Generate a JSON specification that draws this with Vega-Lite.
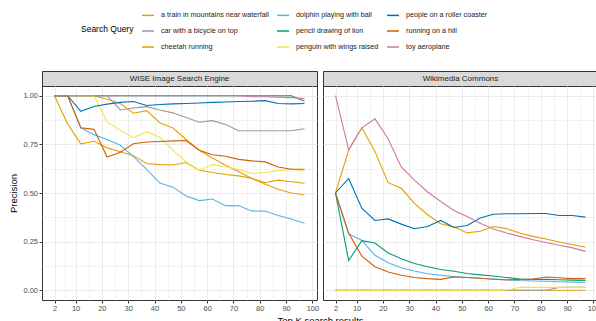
{
  "$schema": "https://vega.github.io/schema/vega-lite/v6.json",
  "padding": {"left": 8, "top": 8, "right": 0, "bottom": 0},
  "autosize": {"type": "pad"},
  "background": "white",
  "config": {
    "font": "Liberation Sans",
    "view": {"stroke": "#333333", "strokeWidth": 1},
    "axis": {"domain": false, "gridColor": "#EBEBEB", "tickColor": "#333333", "tickSize": 3, "labelFontSize": 7.5, "labelColor": "#4D4D4D", "labelPadding": 1.5, "titleFontSize": 9.5, "titleFontWeight": "normal", "titleColor": "#000000", "labelFlush": false}
  },
  "data": {"values": [
    {"e":"WISE Image Search Engine","q":"a train in mountains near waterfall","k":2,"p":1},
    {"e":"WISE Image Search Engine","q":"a train in mountains near waterfall","k":7,"p":0.855},
    {"e":"WISE Image Search Engine","q":"a train in mountains near waterfall","k":12,"p":0.753},
    {"e":"WISE Image Search Engine","q":"a train in mountains near waterfall","k":17,"p":0.766},
    {"e":"WISE Image Search Engine","q":"a train in mountains near waterfall","k":22,"p":0.732},
    {"e":"WISE Image Search Engine","q":"a train in mountains near waterfall","k":27,"p":0.712},
    {"e":"WISE Image Search Engine","q":"a train in mountains near waterfall","k":32,"p":0.692},
    {"e":"WISE Image Search Engine","q":"a train in mountains near waterfall","k":37,"p":0.652},
    {"e":"WISE Image Search Engine","q":"a train in mountains near waterfall","k":42,"p":0.646},
    {"e":"WISE Image Search Engine","q":"a train in mountains near waterfall","k":47,"p":0.644},
    {"e":"WISE Image Search Engine","q":"a train in mountains near waterfall","k":52,"p":0.657},
    {"e":"WISE Image Search Engine","q":"a train in mountains near waterfall","k":57,"p":0.617},
    {"e":"WISE Image Search Engine","q":"a train in mountains near waterfall","k":62,"p":0.605},
    {"e":"WISE Image Search Engine","q":"a train in mountains near waterfall","k":67,"p":0.595},
    {"e":"WISE Image Search Engine","q":"a train in mountains near waterfall","k":72,"p":0.588},
    {"e":"WISE Image Search Engine","q":"a train in mountains near waterfall","k":77,"p":0.575},
    {"e":"WISE Image Search Engine","q":"a train in mountains near waterfall","k":82,"p":0.553},
    {"e":"WISE Image Search Engine","q":"a train in mountains near waterfall","k":87,"p":0.566},
    {"e":"WISE Image Search Engine","q":"a train in mountains near waterfall","k":92,"p":0.558},
    {"e":"WISE Image Search Engine","q":"a train in mountains near waterfall","k":97,"p":0.55},
    {"e":"WISE Image Search Engine","q":"car with a bicycle on top","k":2,"p":1},
    {"e":"WISE Image Search Engine","q":"car with a bicycle on top","k":7,"p":1},
    {"e":"WISE Image Search Engine","q":"car with a bicycle on top","k":12,"p":1},
    {"e":"WISE Image Search Engine","q":"car with a bicycle on top","k":17,"p":1},
    {"e":"WISE Image Search Engine","q":"car with a bicycle on top","k":22,"p":1},
    {"e":"WISE Image Search Engine","q":"car with a bicycle on top","k":27,"p":0.927},
    {"e":"WISE Image Search Engine","q":"car with a bicycle on top","k":32,"p":0.937},
    {"e":"WISE Image Search Engine","q":"car with a bicycle on top","k":37,"p":0.944},
    {"e":"WISE Image Search Engine","q":"car with a bicycle on top","k":42,"p":0.927},
    {"e":"WISE Image Search Engine","q":"car with a bicycle on top","k":47,"p":0.912},
    {"e":"WISE Image Search Engine","q":"car with a bicycle on top","k":52,"p":0.888},
    {"e":"WISE Image Search Engine","q":"car with a bicycle on top","k":57,"p":0.864},
    {"e":"WISE Image Search Engine","q":"car with a bicycle on top","k":62,"p":0.872},
    {"e":"WISE Image Search Engine","q":"car with a bicycle on top","k":67,"p":0.852},
    {"e":"WISE Image Search Engine","q":"car with a bicycle on top","k":72,"p":0.82},
    {"e":"WISE Image Search Engine","q":"car with a bicycle on top","k":77,"p":0.82},
    {"e":"WISE Image Search Engine","q":"car with a bicycle on top","k":82,"p":0.82},
    {"e":"WISE Image Search Engine","q":"car with a bicycle on top","k":87,"p":0.82},
    {"e":"WISE Image Search Engine","q":"car with a bicycle on top","k":92,"p":0.82},
    {"e":"WISE Image Search Engine","q":"car with a bicycle on top","k":97,"p":0.83},
    {"e":"WISE Image Search Engine","q":"cheetah running","k":2,"p":1},
    {"e":"WISE Image Search Engine","q":"cheetah running","k":7,"p":1},
    {"e":"WISE Image Search Engine","q":"cheetah running","k":12,"p":1},
    {"e":"WISE Image Search Engine","q":"cheetah running","k":17,"p":1},
    {"e":"WISE Image Search Engine","q":"cheetah running","k":22,"p":0.982},
    {"e":"WISE Image Search Engine","q":"cheetah running","k":27,"p":0.96},
    {"e":"WISE Image Search Engine","q":"cheetah running","k":32,"p":0.91},
    {"e":"WISE Image Search Engine","q":"cheetah running","k":37,"p":0.923},
    {"e":"WISE Image Search Engine","q":"cheetah running","k":42,"p":0.861},
    {"e":"WISE Image Search Engine","q":"cheetah running","k":47,"p":0.834},
    {"e":"WISE Image Search Engine","q":"cheetah running","k":52,"p":0.775},
    {"e":"WISE Image Search Engine","q":"cheetah running","k":57,"p":0.72},
    {"e":"WISE Image Search Engine","q":"cheetah running","k":62,"p":0.68},
    {"e":"WISE Image Search Engine","q":"cheetah running","k":67,"p":0.643},
    {"e":"WISE Image Search Engine","q":"cheetah running","k":72,"p":0.609},
    {"e":"WISE Image Search Engine","q":"cheetah running","k":77,"p":0.575},
    {"e":"WISE Image Search Engine","q":"cheetah running","k":82,"p":0.546},
    {"e":"WISE Image Search Engine","q":"cheetah running","k":87,"p":0.519},
    {"e":"WISE Image Search Engine","q":"cheetah running","k":92,"p":0.5},
    {"e":"WISE Image Search Engine","q":"cheetah running","k":97,"p":0.49},
    {"e":"WISE Image Search Engine","q":"dolphin playing with ball","k":2,"p":1},
    {"e":"WISE Image Search Engine","q":"dolphin playing with ball","k":7,"p":1},
    {"e":"WISE Image Search Engine","q":"dolphin playing with ball","k":12,"p":0.835},
    {"e":"WISE Image Search Engine","q":"dolphin playing with ball","k":17,"p":0.8},
    {"e":"WISE Image Search Engine","q":"dolphin playing with ball","k":22,"p":0.775},
    {"e":"WISE Image Search Engine","q":"dolphin playing with ball","k":27,"p":0.745},
    {"e":"WISE Image Search Engine","q":"dolphin playing with ball","k":32,"p":0.687},
    {"e":"WISE Image Search Engine","q":"dolphin playing with ball","k":37,"p":0.622},
    {"e":"WISE Image Search Engine","q":"dolphin playing with ball","k":42,"p":0.551},
    {"e":"WISE Image Search Engine","q":"dolphin playing with ball","k":47,"p":0.53},
    {"e":"WISE Image Search Engine","q":"dolphin playing with ball","k":52,"p":0.485},
    {"e":"WISE Image Search Engine","q":"dolphin playing with ball","k":57,"p":0.461},
    {"e":"WISE Image Search Engine","q":"dolphin playing with ball","k":62,"p":0.469},
    {"e":"WISE Image Search Engine","q":"dolphin playing with ball","k":67,"p":0.435},
    {"e":"WISE Image Search Engine","q":"dolphin playing with ball","k":72,"p":0.434},
    {"e":"WISE Image Search Engine","q":"dolphin playing with ball","k":77,"p":0.408},
    {"e":"WISE Image Search Engine","q":"dolphin playing with ball","k":82,"p":0.407},
    {"e":"WISE Image Search Engine","q":"dolphin playing with ball","k":87,"p":0.384},
    {"e":"WISE Image Search Engine","q":"dolphin playing with ball","k":92,"p":0.366},
    {"e":"WISE Image Search Engine","q":"dolphin playing with ball","k":97,"p":0.345},
    {"e":"WISE Image Search Engine","q":"pencil drawing of lion","k":2,"p":1},
    {"e":"WISE Image Search Engine","q":"pencil drawing of lion","k":7,"p":1},
    {"e":"WISE Image Search Engine","q":"pencil drawing of lion","k":12,"p":1},
    {"e":"WISE Image Search Engine","q":"pencil drawing of lion","k":17,"p":1},
    {"e":"WISE Image Search Engine","q":"pencil drawing of lion","k":22,"p":1},
    {"e":"WISE Image Search Engine","q":"pencil drawing of lion","k":27,"p":1},
    {"e":"WISE Image Search Engine","q":"pencil drawing of lion","k":32,"p":1},
    {"e":"WISE Image Search Engine","q":"pencil drawing of lion","k":37,"p":1},
    {"e":"WISE Image Search Engine","q":"pencil drawing of lion","k":42,"p":1},
    {"e":"WISE Image Search Engine","q":"pencil drawing of lion","k":47,"p":1},
    {"e":"WISE Image Search Engine","q":"pencil drawing of lion","k":52,"p":1},
    {"e":"WISE Image Search Engine","q":"pencil drawing of lion","k":57,"p":1},
    {"e":"WISE Image Search Engine","q":"pencil drawing of lion","k":62,"p":1},
    {"e":"WISE Image Search Engine","q":"pencil drawing of lion","k":67,"p":1},
    {"e":"WISE Image Search Engine","q":"pencil drawing of lion","k":72,"p":1},
    {"e":"WISE Image Search Engine","q":"pencil drawing of lion","k":77,"p":1},
    {"e":"WISE Image Search Engine","q":"pencil drawing of lion","k":82,"p":1},
    {"e":"WISE Image Search Engine","q":"pencil drawing of lion","k":87,"p":1},
    {"e":"WISE Image Search Engine","q":"pencil drawing of lion","k":92,"p":1},
    {"e":"WISE Image Search Engine","q":"pencil drawing of lion","k":97,"p":0.972},
    {"e":"WISE Image Search Engine","q":"penguin with wings raised","k":2,"p":1},
    {"e":"WISE Image Search Engine","q":"penguin with wings raised","k":7,"p":1},
    {"e":"WISE Image Search Engine","q":"penguin with wings raised","k":12,"p":1},
    {"e":"WISE Image Search Engine","q":"penguin with wings raised","k":17,"p":1},
    {"e":"WISE Image Search Engine","q":"penguin with wings raised","k":22,"p":0.865},
    {"e":"WISE Image Search Engine","q":"penguin with wings raised","k":27,"p":0.822},
    {"e":"WISE Image Search Engine","q":"penguin with wings raised","k":32,"p":0.784},
    {"e":"WISE Image Search Engine","q":"penguin with wings raised","k":37,"p":0.815},
    {"e":"WISE Image Search Engine","q":"penguin with wings raised","k":42,"p":0.787},
    {"e":"WISE Image Search Engine","q":"penguin with wings raised","k":47,"p":0.72},
    {"e":"WISE Image Search Engine","q":"penguin with wings raised","k":52,"p":0.66},
    {"e":"WISE Image Search Engine","q":"penguin with wings raised","k":57,"p":0.617},
    {"e":"WISE Image Search Engine","q":"penguin with wings raised","k":62,"p":0.646},
    {"e":"WISE Image Search Engine","q":"penguin with wings raised","k":67,"p":0.635},
    {"e":"WISE Image Search Engine","q":"penguin with wings raised","k":72,"p":0.62},
    {"e":"WISE Image Search Engine","q":"penguin with wings raised","k":77,"p":0.6},
    {"e":"WISE Image Search Engine","q":"penguin with wings raised","k":82,"p":0.605},
    {"e":"WISE Image Search Engine","q":"penguin with wings raised","k":87,"p":0.615},
    {"e":"WISE Image Search Engine","q":"penguin with wings raised","k":92,"p":0.622},
    {"e":"WISE Image Search Engine","q":"penguin with wings raised","k":97,"p":0.612},
    {"e":"WISE Image Search Engine","q":"people on a roller coaster","k":2,"p":1},
    {"e":"WISE Image Search Engine","q":"people on a roller coaster","k":7,"p":1},
    {"e":"WISE Image Search Engine","q":"people on a roller coaster","k":12,"p":0.92},
    {"e":"WISE Image Search Engine","q":"people on a roller coaster","k":17,"p":0.945},
    {"e":"WISE Image Search Engine","q":"people on a roller coaster","k":22,"p":0.957},
    {"e":"WISE Image Search Engine","q":"people on a roller coaster","k":27,"p":0.966},
    {"e":"WISE Image Search Engine","q":"people on a roller coaster","k":32,"p":0.97},
    {"e":"WISE Image Search Engine","q":"people on a roller coaster","k":37,"p":0.95},
    {"e":"WISE Image Search Engine","q":"people on a roller coaster","k":42,"p":0.955},
    {"e":"WISE Image Search Engine","q":"people on a roller coaster","k":47,"p":0.958},
    {"e":"WISE Image Search Engine","q":"people on a roller coaster","k":52,"p":0.96},
    {"e":"WISE Image Search Engine","q":"people on a roller coaster","k":57,"p":0.963},
    {"e":"WISE Image Search Engine","q":"people on a roller coaster","k":62,"p":0.966},
    {"e":"WISE Image Search Engine","q":"people on a roller coaster","k":67,"p":0.968},
    {"e":"WISE Image Search Engine","q":"people on a roller coaster","k":72,"p":0.97},
    {"e":"WISE Image Search Engine","q":"people on a roller coaster","k":77,"p":0.972},
    {"e":"WISE Image Search Engine","q":"people on a roller coaster","k":82,"p":0.975},
    {"e":"WISE Image Search Engine","q":"people on a roller coaster","k":87,"p":0.96},
    {"e":"WISE Image Search Engine","q":"people on a roller coaster","k":92,"p":0.958},
    {"e":"WISE Image Search Engine","q":"people on a roller coaster","k":97,"p":0.96},
    {"e":"WISE Image Search Engine","q":"running on a hill","k":2,"p":1},
    {"e":"WISE Image Search Engine","q":"running on a hill","k":7,"p":1},
    {"e":"WISE Image Search Engine","q":"running on a hill","k":12,"p":0.835},
    {"e":"WISE Image Search Engine","q":"running on a hill","k":17,"p":0.827},
    {"e":"WISE Image Search Engine","q":"running on a hill","k":22,"p":0.685},
    {"e":"WISE Image Search Engine","q":"running on a hill","k":27,"p":0.71},
    {"e":"WISE Image Search Engine","q":"running on a hill","k":32,"p":0.753},
    {"e":"WISE Image Search Engine","q":"running on a hill","k":37,"p":0.762},
    {"e":"WISE Image Search Engine","q":"running on a hill","k":42,"p":0.765},
    {"e":"WISE Image Search Engine","q":"running on a hill","k":47,"p":0.768},
    {"e":"WISE Image Search Engine","q":"running on a hill","k":52,"p":0.77},
    {"e":"WISE Image Search Engine","q":"running on a hill","k":57,"p":0.72},
    {"e":"WISE Image Search Engine","q":"running on a hill","k":62,"p":0.697},
    {"e":"WISE Image Search Engine","q":"running on a hill","k":67,"p":0.689},
    {"e":"WISE Image Search Engine","q":"running on a hill","k":72,"p":0.673},
    {"e":"WISE Image Search Engine","q":"running on a hill","k":77,"p":0.665},
    {"e":"WISE Image Search Engine","q":"running on a hill","k":82,"p":0.66},
    {"e":"WISE Image Search Engine","q":"running on a hill","k":87,"p":0.634},
    {"e":"WISE Image Search Engine","q":"running on a hill","k":92,"p":0.622},
    {"e":"WISE Image Search Engine","q":"running on a hill","k":97,"p":0.622},
    {"e":"WISE Image Search Engine","q":"toy aeroplane","k":2,"p":1},
    {"e":"WISE Image Search Engine","q":"toy aeroplane","k":7,"p":1},
    {"e":"WISE Image Search Engine","q":"toy aeroplane","k":12,"p":1},
    {"e":"WISE Image Search Engine","q":"toy aeroplane","k":17,"p":1},
    {"e":"WISE Image Search Engine","q":"toy aeroplane","k":22,"p":1},
    {"e":"WISE Image Search Engine","q":"toy aeroplane","k":27,"p":1},
    {"e":"WISE Image Search Engine","q":"toy aeroplane","k":32,"p":1},
    {"e":"WISE Image Search Engine","q":"toy aeroplane","k":37,"p":1},
    {"e":"WISE Image Search Engine","q":"toy aeroplane","k":42,"p":1},
    {"e":"WISE Image Search Engine","q":"toy aeroplane","k":47,"p":1},
    {"e":"WISE Image Search Engine","q":"toy aeroplane","k":52,"p":1},
    {"e":"WISE Image Search Engine","q":"toy aeroplane","k":57,"p":1},
    {"e":"WISE Image Search Engine","q":"toy aeroplane","k":62,"p":1},
    {"e":"WISE Image Search Engine","q":"toy aeroplane","k":67,"p":1},
    {"e":"WISE Image Search Engine","q":"toy aeroplane","k":72,"p":1},
    {"e":"WISE Image Search Engine","q":"toy aeroplane","k":77,"p":0.995},
    {"e":"WISE Image Search Engine","q":"toy aeroplane","k":82,"p":0.995},
    {"e":"WISE Image Search Engine","q":"toy aeroplane","k":87,"p":0.993},
    {"e":"WISE Image Search Engine","q":"toy aeroplane","k":92,"p":0.99},
    {"e":"WISE Image Search Engine","q":"toy aeroplane","k":97,"p":0.985},
    {"e":"Wikimedia Commons","q":"a train in mountains near waterfall","k":2,"p":0},
    {"e":"Wikimedia Commons","q":"a train in mountains near waterfall","k":7,"p":0},
    {"e":"Wikimedia Commons","q":"a train in mountains near waterfall","k":12,"p":0},
    {"e":"Wikimedia Commons","q":"a train in mountains near waterfall","k":17,"p":0},
    {"e":"Wikimedia Commons","q":"a train in mountains near waterfall","k":22,"p":0},
    {"e":"Wikimedia Commons","q":"a train in mountains near waterfall","k":27,"p":0},
    {"e":"Wikimedia Commons","q":"a train in mountains near waterfall","k":32,"p":0},
    {"e":"Wikimedia Commons","q":"a train in mountains near waterfall","k":37,"p":0},
    {"e":"Wikimedia Commons","q":"a train in mountains near waterfall","k":42,"p":0},
    {"e":"Wikimedia Commons","q":"a train in mountains near waterfall","k":47,"p":0},
    {"e":"Wikimedia Commons","q":"a train in mountains near waterfall","k":52,"p":0},
    {"e":"Wikimedia Commons","q":"a train in mountains near waterfall","k":57,"p":0},
    {"e":"Wikimedia Commons","q":"a train in mountains near waterfall","k":62,"p":0},
    {"e":"Wikimedia Commons","q":"a train in mountains near waterfall","k":67,"p":0},
    {"e":"Wikimedia Commons","q":"a train in mountains near waterfall","k":72,"p":0},
    {"e":"Wikimedia Commons","q":"a train in mountains near waterfall","k":77,"p":0},
    {"e":"Wikimedia Commons","q":"a train in mountains near waterfall","k":82,"p":0},
    {"e":"Wikimedia Commons","q":"a train in mountains near waterfall","k":87,"p":0},
    {"e":"Wikimedia Commons","q":"a train in mountains near waterfall","k":92,"p":0},
    {"e":"Wikimedia Commons","q":"a train in mountains near waterfall","k":97,"p":0},
    {"e":"Wikimedia Commons","q":"car with a bicycle on top","k":2,"p":0},
    {"e":"Wikimedia Commons","q":"car with a bicycle on top","k":7,"p":0},
    {"e":"Wikimedia Commons","q":"car with a bicycle on top","k":12,"p":0},
    {"e":"Wikimedia Commons","q":"car with a bicycle on top","k":17,"p":0},
    {"e":"Wikimedia Commons","q":"car with a bicycle on top","k":22,"p":0},
    {"e":"Wikimedia Commons","q":"car with a bicycle on top","k":27,"p":0},
    {"e":"Wikimedia Commons","q":"car with a bicycle on top","k":32,"p":0},
    {"e":"Wikimedia Commons","q":"car with a bicycle on top","k":37,"p":0},
    {"e":"Wikimedia Commons","q":"car with a bicycle on top","k":42,"p":0},
    {"e":"Wikimedia Commons","q":"car with a bicycle on top","k":47,"p":0},
    {"e":"Wikimedia Commons","q":"car with a bicycle on top","k":52,"p":0},
    {"e":"Wikimedia Commons","q":"car with a bicycle on top","k":57,"p":0},
    {"e":"Wikimedia Commons","q":"car with a bicycle on top","k":62,"p":0},
    {"e":"Wikimedia Commons","q":"car with a bicycle on top","k":67,"p":0},
    {"e":"Wikimedia Commons","q":"car with a bicycle on top","k":72,"p":0},
    {"e":"Wikimedia Commons","q":"car with a bicycle on top","k":77,"p":0},
    {"e":"Wikimedia Commons","q":"car with a bicycle on top","k":82,"p":0},
    {"e":"Wikimedia Commons","q":"car with a bicycle on top","k":87,"p":0.015},
    {"e":"Wikimedia Commons","q":"car with a bicycle on top","k":92,"p":0.015},
    {"e":"Wikimedia Commons","q":"car with a bicycle on top","k":97,"p":0.015},
    {"e":"Wikimedia Commons","q":"cheetah running","k":2,"p":0.5},
    {"e":"Wikimedia Commons","q":"cheetah running","k":7,"p":0.72},
    {"e":"Wikimedia Commons","q":"cheetah running","k":12,"p":0.835},
    {"e":"Wikimedia Commons","q":"cheetah running","k":17,"p":0.714},
    {"e":"Wikimedia Commons","q":"cheetah running","k":22,"p":0.553},
    {"e":"Wikimedia Commons","q":"cheetah running","k":27,"p":0.524},
    {"e":"Wikimedia Commons","q":"cheetah running","k":32,"p":0.447},
    {"e":"Wikimedia Commons","q":"cheetah running","k":37,"p":0.388},
    {"e":"Wikimedia Commons","q":"cheetah running","k":42,"p":0.342},
    {"e":"Wikimedia Commons","q":"cheetah running","k":47,"p":0.326},
    {"e":"Wikimedia Commons","q":"cheetah running","k":52,"p":0.295},
    {"e":"Wikimedia Commons","q":"cheetah running","k":57,"p":0.303},
    {"e":"Wikimedia Commons","q":"cheetah running","k":62,"p":0.328},
    {"e":"Wikimedia Commons","q":"cheetah running","k":67,"p":0.317},
    {"e":"Wikimedia Commons","q":"cheetah running","k":72,"p":0.294},
    {"e":"Wikimedia Commons","q":"cheetah running","k":77,"p":0.277},
    {"e":"Wikimedia Commons","q":"cheetah running","k":82,"p":0.264},
    {"e":"Wikimedia Commons","q":"cheetah running","k":87,"p":0.248},
    {"e":"Wikimedia Commons","q":"cheetah running","k":92,"p":0.235},
    {"e":"Wikimedia Commons","q":"cheetah running","k":97,"p":0.221},
    {"e":"Wikimedia Commons","q":"dolphin playing with ball","k":2,"p":0.5},
    {"e":"Wikimedia Commons","q":"dolphin playing with ball","k":7,"p":0.289},
    {"e":"Wikimedia Commons","q":"dolphin playing with ball","k":12,"p":0.257},
    {"e":"Wikimedia Commons","q":"dolphin playing with ball","k":17,"p":0.18},
    {"e":"Wikimedia Commons","q":"dolphin playing with ball","k":22,"p":0.141},
    {"e":"Wikimedia Commons","q":"dolphin playing with ball","k":27,"p":0.116},
    {"e":"Wikimedia Commons","q":"dolphin playing with ball","k":32,"p":0.099},
    {"e":"Wikimedia Commons","q":"dolphin playing with ball","k":37,"p":0.085},
    {"e":"Wikimedia Commons","q":"dolphin playing with ball","k":42,"p":0.077},
    {"e":"Wikimedia Commons","q":"dolphin playing with ball","k":47,"p":0.07},
    {"e":"Wikimedia Commons","q":"dolphin playing with ball","k":52,"p":0.066},
    {"e":"Wikimedia Commons","q":"dolphin playing with ball","k":57,"p":0.062},
    {"e":"Wikimedia Commons","q":"dolphin playing with ball","k":62,"p":0.058},
    {"e":"Wikimedia Commons","q":"dolphin playing with ball","k":67,"p":0.054},
    {"e":"Wikimedia Commons","q":"dolphin playing with ball","k":72,"p":0.05},
    {"e":"Wikimedia Commons","q":"dolphin playing with ball","k":77,"p":0.048},
    {"e":"Wikimedia Commons","q":"dolphin playing with ball","k":82,"p":0.046},
    {"e":"Wikimedia Commons","q":"dolphin playing with ball","k":87,"p":0.044},
    {"e":"Wikimedia Commons","q":"dolphin playing with ball","k":92,"p":0.042},
    {"e":"Wikimedia Commons","q":"dolphin playing with ball","k":97,"p":0.04},
    {"e":"Wikimedia Commons","q":"pencil drawing of lion","k":2,"p":0.5},
    {"e":"Wikimedia Commons","q":"pencil drawing of lion","k":7,"p":0.153},
    {"e":"Wikimedia Commons","q":"pencil drawing of lion","k":12,"p":0.255},
    {"e":"Wikimedia Commons","q":"pencil drawing of lion","k":17,"p":0.243},
    {"e":"Wikimedia Commons","q":"pencil drawing of lion","k":22,"p":0.192},
    {"e":"Wikimedia Commons","q":"pencil drawing of lion","k":27,"p":0.162},
    {"e":"Wikimedia Commons","q":"pencil drawing of lion","k":32,"p":0.138},
    {"e":"Wikimedia Commons","q":"pencil drawing of lion","k":37,"p":0.121},
    {"e":"Wikimedia Commons","q":"pencil drawing of lion","k":42,"p":0.107},
    {"e":"Wikimedia Commons","q":"pencil drawing of lion","k":47,"p":0.098},
    {"e":"Wikimedia Commons","q":"pencil drawing of lion","k":52,"p":0.086},
    {"e":"Wikimedia Commons","q":"pencil drawing of lion","k":57,"p":0.079},
    {"e":"Wikimedia Commons","q":"pencil drawing of lion","k":62,"p":0.073},
    {"e":"Wikimedia Commons","q":"pencil drawing of lion","k":67,"p":0.066},
    {"e":"Wikimedia Commons","q":"pencil drawing of lion","k":72,"p":0.058},
    {"e":"Wikimedia Commons","q":"pencil drawing of lion","k":77,"p":0.056},
    {"e":"Wikimedia Commons","q":"pencil drawing of lion","k":82,"p":0.056},
    {"e":"Wikimedia Commons","q":"pencil drawing of lion","k":87,"p":0.054},
    {"e":"Wikimedia Commons","q":"pencil drawing of lion","k":92,"p":0.052},
    {"e":"Wikimedia Commons","q":"pencil drawing of lion","k":97,"p":0.051},
    {"e":"Wikimedia Commons","q":"penguin with wings raised","k":2,"p":0},
    {"e":"Wikimedia Commons","q":"penguin with wings raised","k":7,"p":0},
    {"e":"Wikimedia Commons","q":"penguin with wings raised","k":12,"p":0},
    {"e":"Wikimedia Commons","q":"penguin with wings raised","k":17,"p":0},
    {"e":"Wikimedia Commons","q":"penguin with wings raised","k":22,"p":0},
    {"e":"Wikimedia Commons","q":"penguin with wings raised","k":27,"p":0},
    {"e":"Wikimedia Commons","q":"penguin with wings raised","k":32,"p":0},
    {"e":"Wikimedia Commons","q":"penguin with wings raised","k":37,"p":0},
    {"e":"Wikimedia Commons","q":"penguin with wings raised","k":42,"p":0},
    {"e":"Wikimedia Commons","q":"penguin with wings raised","k":47,"p":0},
    {"e":"Wikimedia Commons","q":"penguin with wings raised","k":52,"p":0},
    {"e":"Wikimedia Commons","q":"penguin with wings raised","k":57,"p":0},
    {"e":"Wikimedia Commons","q":"penguin with wings raised","k":62,"p":0},
    {"e":"Wikimedia Commons","q":"penguin with wings raised","k":67,"p":0},
    {"e":"Wikimedia Commons","q":"penguin with wings raised","k":72,"p":0.015},
    {"e":"Wikimedia Commons","q":"penguin with wings raised","k":77,"p":0.015},
    {"e":"Wikimedia Commons","q":"penguin with wings raised","k":82,"p":0.015},
    {"e":"Wikimedia Commons","q":"penguin with wings raised","k":87,"p":0.015},
    {"e":"Wikimedia Commons","q":"penguin with wings raised","k":92,"p":0.015},
    {"e":"Wikimedia Commons","q":"penguin with wings raised","k":97,"p":0.015},
    {"e":"Wikimedia Commons","q":"people on a roller coaster","k":2,"p":0.5},
    {"e":"Wikimedia Commons","q":"people on a roller coaster","k":7,"p":0.575},
    {"e":"Wikimedia Commons","q":"people on a roller coaster","k":12,"p":0.422},
    {"e":"Wikimedia Commons","q":"people on a roller coaster","k":17,"p":0.359},
    {"e":"Wikimedia Commons","q":"people on a roller coaster","k":22,"p":0.367},
    {"e":"Wikimedia Commons","q":"people on a roller coaster","k":27,"p":0.34},
    {"e":"Wikimedia Commons","q":"people on a roller coaster","k":32,"p":0.316},
    {"e":"Wikimedia Commons","q":"people on a roller coaster","k":37,"p":0.328},
    {"e":"Wikimedia Commons","q":"people on a roller coaster","k":42,"p":0.359},
    {"e":"Wikimedia Commons","q":"people on a roller coaster","k":47,"p":0.323},
    {"e":"Wikimedia Commons","q":"people on a roller coaster","k":52,"p":0.333},
    {"e":"Wikimedia Commons","q":"people on a roller coaster","k":57,"p":0.371},
    {"e":"Wikimedia Commons","q":"people on a roller coaster","k":62,"p":0.391},
    {"e":"Wikimedia Commons","q":"people on a roller coaster","k":67,"p":0.393},
    {"e":"Wikimedia Commons","q":"people on a roller coaster","k":72,"p":0.393},
    {"e":"Wikimedia Commons","q":"people on a roller coaster","k":77,"p":0.395},
    {"e":"Wikimedia Commons","q":"people on a roller coaster","k":82,"p":0.395},
    {"e":"Wikimedia Commons","q":"people on a roller coaster","k":87,"p":0.384},
    {"e":"Wikimedia Commons","q":"people on a roller coaster","k":92,"p":0.384},
    {"e":"Wikimedia Commons","q":"people on a roller coaster","k":97,"p":0.376},
    {"e":"Wikimedia Commons","q":"running on a hill","k":2,"p":0.5},
    {"e":"Wikimedia Commons","q":"running on a hill","k":7,"p":0.294},
    {"e":"Wikimedia Commons","q":"running on a hill","k":12,"p":0.175},
    {"e":"Wikimedia Commons","q":"running on a hill","k":17,"p":0.121},
    {"e":"Wikimedia Commons","q":"running on a hill","k":22,"p":0.094},
    {"e":"Wikimedia Commons","q":"running on a hill","k":27,"p":0.077},
    {"e":"Wikimedia Commons","q":"running on a hill","k":32,"p":0.066},
    {"e":"Wikimedia Commons","q":"running on a hill","k":37,"p":0.06},
    {"e":"Wikimedia Commons","q":"running on a hill","k":42,"p":0.056},
    {"e":"Wikimedia Commons","q":"running on a hill","k":47,"p":0.068},
    {"e":"Wikimedia Commons","q":"running on a hill","k":52,"p":0.066},
    {"e":"Wikimedia Commons","q":"running on a hill","k":57,"p":0.062},
    {"e":"Wikimedia Commons","q":"running on a hill","k":62,"p":0.057},
    {"e":"Wikimedia Commons","q":"running on a hill","k":67,"p":0.053},
    {"e":"Wikimedia Commons","q":"running on a hill","k":72,"p":0.056},
    {"e":"Wikimedia Commons","q":"running on a hill","k":77,"p":0.058},
    {"e":"Wikimedia Commons","q":"running on a hill","k":82,"p":0.068},
    {"e":"Wikimedia Commons","q":"running on a hill","k":87,"p":0.064},
    {"e":"Wikimedia Commons","q":"running on a hill","k":92,"p":0.06},
    {"e":"Wikimedia Commons","q":"running on a hill","k":97,"p":0.06},
    {"e":"Wikimedia Commons","q":"toy aeroplane","k":2,"p":1},
    {"e":"Wikimedia Commons","q":"toy aeroplane","k":7,"p":0.723},
    {"e":"Wikimedia Commons","q":"toy aeroplane","k":12,"p":0.835},
    {"e":"Wikimedia Commons","q":"toy aeroplane","k":17,"p":0.881},
    {"e":"Wikimedia Commons","q":"toy aeroplane","k":22,"p":0.779},
    {"e":"Wikimedia Commons","q":"toy aeroplane","k":27,"p":0.634},
    {"e":"Wikimedia Commons","q":"toy aeroplane","k":32,"p":0.566},
    {"e":"Wikimedia Commons","q":"toy aeroplane","k":37,"p":0.505},
    {"e":"Wikimedia Commons","q":"toy aeroplane","k":42,"p":0.456},
    {"e":"Wikimedia Commons","q":"toy aeroplane","k":47,"p":0.41},
    {"e":"Wikimedia Commons","q":"toy aeroplane","k":52,"p":0.379},
    {"e":"Wikimedia Commons","q":"toy aeroplane","k":57,"p":0.345},
    {"e":"Wikimedia Commons","q":"toy aeroplane","k":62,"p":0.315},
    {"e":"Wikimedia Commons","q":"toy aeroplane","k":67,"p":0.294},
    {"e":"Wikimedia Commons","q":"toy aeroplane","k":72,"p":0.277},
    {"e":"Wikimedia Commons","q":"toy aeroplane","k":77,"p":0.26},
    {"e":"Wikimedia Commons","q":"toy aeroplane","k":82,"p":0.246},
    {"e":"Wikimedia Commons","q":"toy aeroplane","k":87,"p":0.231},
    {"e":"Wikimedia Commons","q":"toy aeroplane","k":92,"p":0.218},
    {"e":"Wikimedia Commons","q":"toy aeroplane","k":97,"p":0.2}
  ]},
  "columns": 2,
  "align": "each",
  "bounds": "flush",
  "spacing": {"row": 0, "column": 6},
  "resolve": {"scale": {"color": "shared"}},
  "concat": [
    {
      "width": 275, "height": 15,
      "view": {"fill": "#D9D9D9", "stroke": "#333333"},
      "transform": [{"filter": "datum.e == 'WISE Image Search Engine'"}, {"aggregate": [{"op": "count", "as": "n"}], "groupby": ["e"]}],
      "mark": {"type": "text", "fontSize": 8, "color": "#1A1A1A", "baseline": "middle", "align": "center"},
      "encoding": {"text": {"field": "e", "type": "nominal"}}
    },
    {
      "width": 275, "height": 15,
      "view": {"fill": "#D9D9D9", "stroke": "#333333"},
      "transform": [{"filter": "datum.e == 'Wikimedia Commons'"}, {"aggregate": [{"op": "count", "as": "n"}], "groupby": ["e"]}],
      "mark": {"type": "text", "fontSize": 8, "color": "#1A1A1A", "baseline": "middle", "align": "center"},
      "encoding": {"text": {"field": "e", "type": "nominal"}}
    },
    {
      "width": 275, "height": 214,
      "transform": [{"filter": "datum.e == 'WISE Image Search Engine'"}],
      "mark": {"type": "line", "strokeWidth": 1.1},
      "encoding": {
        "x": {"field": "k", "type": "quantitative", "scale": {"domain": [-2.75, 101.75], "nice": false, "zero": false},
          "axis": {"title": "Top K search results", "titleX": 278, "titleAlign": "center", "titlePadding": 3,
            "values": [2,6,10,15,20,25,30,35,40,45,50,55,60,65,70,75,80,85,90,95,100],
            "labelExpr": "indexof([2,10,20,30,40,50,60,70,80,90,100], datum.value) >= 0 ? datum.label : ''",
            "gridWidth": {"condition": {"test": "indexof([2,10,20,30,40,50,60,70,80,90,100], datum.value) >= 0", "value": 1}, "value": 0.6},
            "tickOpacity": {"condition": {"test": "indexof([2,10,20,30,40,50,60,70,80,90,100], datum.value) >= 0", "value": 1}, "value": 0}}},
        "y": {"field": "p", "type": "quantitative", "scale": {"domain": [-0.05, 1.05], "nice": false, "zero": false},
          "axis": {"title": "Precision", "titlePadding": 4, "format": ".2f",
            "values": [0,0.125,0.25,0.375,0.5,0.625,0.75,0.875,1],
            "labelExpr": "round(datum.value*8) % 2 == 0 ? datum.label : ''",
            "gridWidth": {"condition": {"test": "round(datum.value*8) % 2 == 0", "value": 1}, "value": 0.6},
            "tickOpacity": {"condition": {"test": "round(datum.value*8) % 2 == 0", "value": 1}, "value": 0}}},
        "color": {"field": "q", "type": "nominal",
          "scale": {"domain": ["a train in mountains near waterfall","car with a bicycle on top","cheetah running","dolphin playing with ball","pencil drawing of lion","penguin with wings raised","people on a roller coaster","running on a hill","toy aeroplane"],
                    "range": ["#E69F00","#999999","#E69F00","#56B4E9","#009E73","#F0E442","#0072B2","#D55E00","#CC79A7"]},
          "legend": {"orient": "none", "legendX": 39, "legendY": -63, "columns": 3, "title": "Search Query", "titleOrient": "left", "titleAnchor": "middle", "titleBaseline": "middle", "titleFontSize": 8.5, "titleFontWeight": "normal", "titleColor": "#000000", "titlePadding": 7,
            "symbolType": "stroke", "symbolSize": 144, "symbolStrokeWidth": 1.5, "labelFontSize": 7.2, "labelColor": "#1A1A1A", "labelOffset": 6, "columnPadding": 5, "rowPadding": 5}}
      }
    },
    {
      "width": 275, "height": 214,
      "transform": [{"filter": "datum.e == 'Wikimedia Commons'"}],
      "mark": {"type": "line", "strokeWidth": 1.1},
      "encoding": {
        "x": {"field": "k", "type": "quantitative", "scale": {"domain": [-2.75, 101.75], "nice": false, "zero": false},
          "axis": {"title": null,
            "values": [2,6,10,15,20,25,30,35,40,45,50,55,60,65,70,75,80,85,90,95,100],
            "labelExpr": "indexof([2,10,20,30,40,50,60,70,80,90,100], datum.value) >= 0 ? datum.label : ''",
            "gridWidth": {"condition": {"test": "indexof([2,10,20,30,40,50,60,70,80,90,100], datum.value) >= 0", "value": 1}, "value": 0.6},
            "tickOpacity": {"condition": {"test": "indexof([2,10,20,30,40,50,60,70,80,90,100], datum.value) >= 0", "value": 1}, "value": 0}}},
        "y": {"field": "p", "type": "quantitative", "scale": {"domain": [-0.05, 1.05], "nice": false, "zero": false},
          "axis": {"title": null, "labels": false, "ticks": false,
            "values": [0,0.125,0.25,0.375,0.5,0.625,0.75,0.875,1],
            "gridWidth": {"condition": {"test": "round(datum.value*8) % 2 == 0", "value": 1}, "value": 0.6}}},
        "color": {"field": "q", "type": "nominal",
          "scale": {"domain": ["a train in mountains near waterfall","car with a bicycle on top","cheetah running","dolphin playing with ball","pencil drawing of lion","penguin with wings raised","people on a roller coaster","running on a hill","toy aeroplane"],
                    "range": ["#E69F00","#999999","#E69F00","#56B4E9","#009E73","#F0E442","#0072B2","#D55E00","#CC79A7"]},
          "legend": {"orient": "none", "legendX": 39, "legendY": -63, "columns": 3, "title": "Search Query", "titleOrient": "left", "titleAnchor": "middle", "titleBaseline": "middle", "titleFontSize": 8.5, "titleFontWeight": "normal", "titleColor": "#000000", "titlePadding": 7,
            "symbolType": "stroke", "symbolSize": 144, "symbolStrokeWidth": 1.5, "labelFontSize": 7.2, "labelColor": "#1A1A1A", "labelOffset": 6, "columnPadding": 5, "rowPadding": 5}}
      }
    }
  ]
}
